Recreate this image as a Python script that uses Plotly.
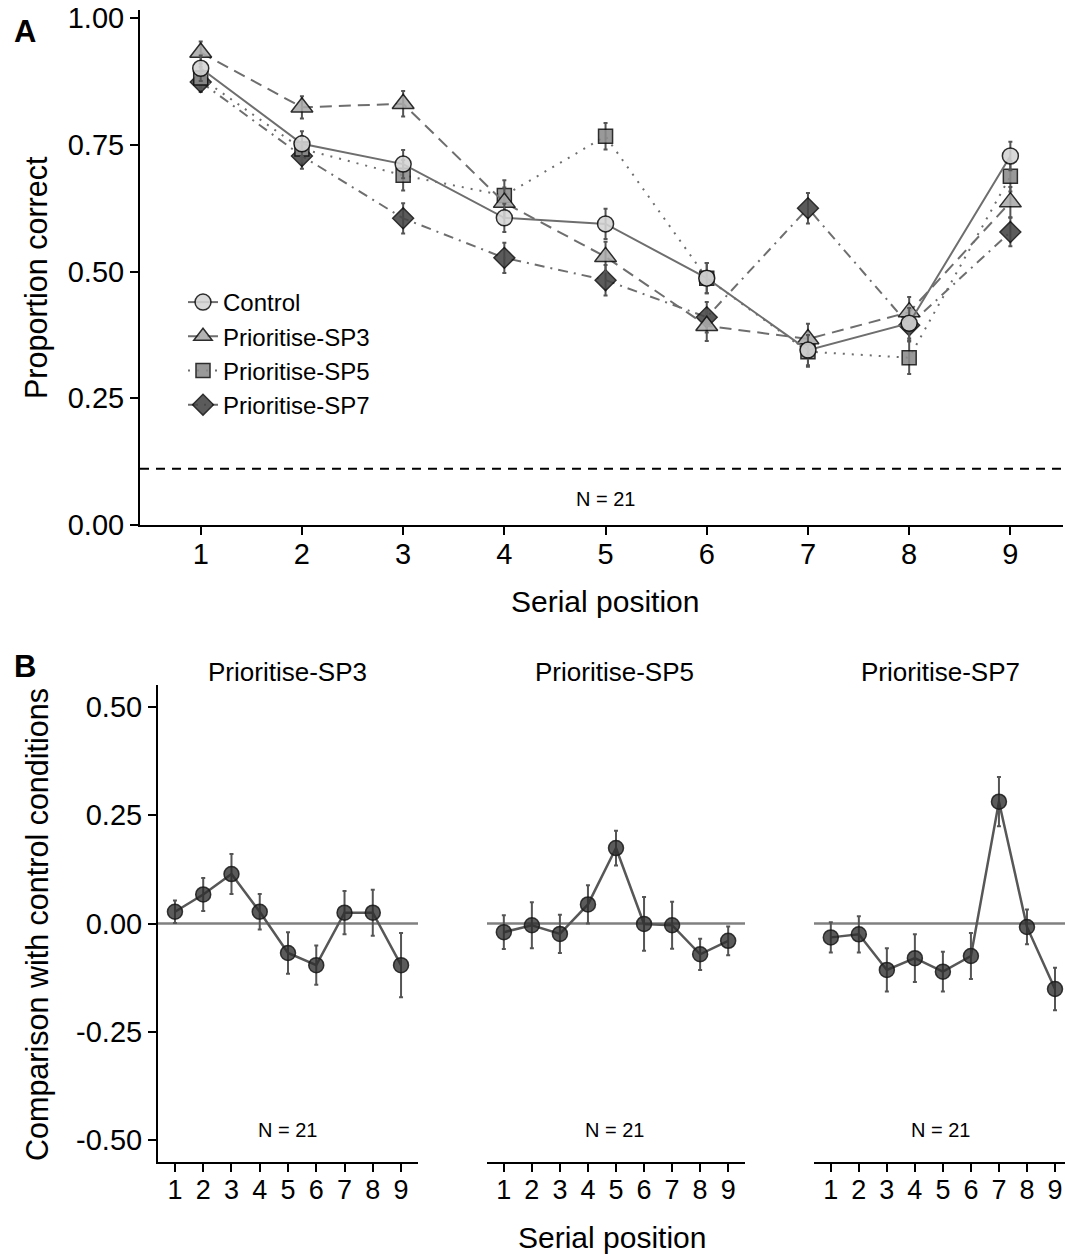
import plotly.graph_objects as go

W, H = 1065, 1254


def px(x):
    return x / W


def py(y):
    return 1 - y / H


# ---------------- data ----------------
positions = [1, 2, 3, 4, 5, 6, 7, 8, 9]
chance_level = 1 / 9
n_label = "N = 21"

control_mean = [0.901, 0.752, 0.712, 0.606, 0.594, 0.487, 0.345, 0.398, 0.728]
control_se = [0.025, 0.025, 0.028, 0.028, 0.030, 0.030, 0.030, 0.030, 0.028]

sp3_mean = [0.932, 0.824, 0.831, 0.636, 0.529, 0.393, 0.367, 0.420, 0.637]
sp3_se = [0.022, 0.022, 0.025, 0.030, 0.030, 0.030, 0.030, 0.030, 0.030]

sp5_mean = [0.882, 0.742, 0.690, 0.650, 0.767, 0.487, 0.342, 0.330, 0.688]
sp5_se = [0.022, 0.025, 0.030, 0.030, 0.026, 0.030, 0.030, 0.032, 0.030]

sp7_mean = [0.874, 0.728, 0.605, 0.527, 0.483, 0.410, 0.625, 0.394, 0.578]
sp7_se = [0.020, 0.025, 0.030, 0.030, 0.030, 0.030, 0.030, 0.030, 0.028]

diff_sp3 = [0.027, 0.067, 0.114, 0.027, -0.068, -0.096, 0.025, 0.025, -0.096]
diff_sp3_se = [0.026, 0.038, 0.046, 0.041, 0.048, 0.045, 0.050, 0.053, 0.074]

diff_sp5 = [-0.020, -0.004, -0.024, 0.044, 0.174, -0.001, -0.004, -0.071, -0.040]
diff_sp5_se = [0.039, 0.053, 0.044, 0.044, 0.040, 0.062, 0.054, 0.036, 0.033]

diff_sp7 = [-0.032, -0.025, -0.107, -0.080, -0.111, -0.075, 0.281, -0.008, -0.151]
diff_sp7_se = [0.035, 0.042, 0.050, 0.055, 0.046, 0.053, 0.057, 0.040, 0.049]

ya_ticks = [0.0, 0.25, 0.5, 0.75, 1.0]
ya_text = ["0.00", "0.25", "0.50", "0.75", "1.00"]
yb_ticks = [-0.5, -0.25, 0.0, 0.25, 0.5]
yb_text = ["-0.50", "-0.25", "0.00", "0.25", "0.50"]

FONT = "Liberation Sans, Arial, Helvetica, sans-serif"
LINE_C = "#6e6e6e"
ERR_C = "#555555"

fig = go.Figure()

# ---------------- panel A ----------------
series = [
    ("Prioritise-SP7", sp7_mean, sp7_se, "diamond", 16, "#454545", "10px,6px,2px,6px", 4),
    ("Prioritise-SP5", sp5_mean, sp5_se, "square", 14, "#8c8c8c", "2px,7px", 3),
    ("Prioritise-SP3", sp3_mean, sp3_se, "triangle-up", 19, "#aaaaaa", "12px,7px", 2),
    ("Control", control_mean, control_se, "circle", 16, "#d4d4d4", "solid", 1),
]
for name, m, se, sym, size, fill, dash, rank in series:
    fig.add_trace(go.Scatter(
        x=positions, y=m, name=name, mode="lines+markers",
        xaxis="x", yaxis="y", legendrank=rank,
        line=dict(color=LINE_C, width=2, dash=dash),
        marker=dict(symbol=sym, size=size, color=fill, opacity=0.88,
                    line=dict(color="#111111", width=1.5)),
        error_y=dict(type="data", array=se, visible=True, color=ERR_C,
                     thickness=2, width=2),
    ))

# ---------------- panel B ----------------
b_sets = [("x2", diff_sp3, diff_sp3_se), ("x3", diff_sp5, diff_sp5_se),
          ("x4", diff_sp7, diff_sp7_se)]
for xa, d, se in b_sets:
    fig.add_trace(go.Scatter(
        x=positions, y=d, mode="lines+markers", showlegend=False,
        xaxis=xa, yaxis="y2",
        line=dict(color="#575757", width=2.5),
        marker=dict(symbol="circle", size=15, color="rgba(45,45,45,0.78)",
                    line=dict(color="rgba(25,25,25,0.85)", width=1.5)),
        error_y=dict(type="data", array=se, visible=True, color=ERR_C,
                     thickness=2, width=2),
    ))

axis_common = dict(
    showline=True, linecolor="black", linewidth=2, showgrid=False,
    zeroline=False, ticks="outside", ticklen=8, tickwidth=2,
    tickcolor="black", automargin=False,
)
ytick_font = dict(size=29, color="black", family=FONT)
xa_font = dict(size=29, color="black", family=FONT)
xb_font = dict(size=27, color="black", family=FONT)

shapes = [
    dict(type="line", xref="x domain", x0=0, x1=1, yref="y",
         y0=chance_level, y1=chance_level, layer="below",
         line=dict(color="black", width=2, dash="9px,7px")),
]
for xa in ["x2", "x3", "x4"]:
    shapes.append(dict(type="line", xref=xa + " domain", x0=0, x1=1,
                       yref="y2", y0=0, y1=0, layer="below",
                       line=dict(color="#808080", width=2.5)))

annotations = [
    dict(text="<b>A</b>", x=px(25), y=py(31), font=dict(size=31)),
    dict(text="<b>B</b>", x=px(25), y=py(666), font=dict(size=31)),
    dict(text=n_label, x=px(605), y=py(499), font=dict(size=20)),
    dict(text="Serial position", x=px(605), y=py(601), font=dict(size=30)),
    dict(text="Proportion correct", x=px(37), y=py(278), textangle=-90,
         font=dict(size=30.5)),
    dict(text="Comparison with control conditions", x=px(37), y=py(925),
         textangle=-90, font=dict(size=30.5)),
    dict(text="Serial position", x=px(612), y=py(1237), font=dict(size=30)),
]
for cx, title in [(287, "Prioritise-SP3"), (614, "Prioritise-SP5"),
                  (940, "Prioritise-SP7")]:
    annotations.append(dict(text=title, x=px(cx), y=py(672),
                            font=dict(size=26)))
    annotations.append(dict(text=n_label, x=px(cx), y=py(1130),
                            font=dict(size=20)))
for a in annotations:
    a.update(xref="paper", yref="paper", xanchor="center", yanchor="middle",
             showarrow=False)
    a["font"].update(color="black", family=FONT)

fig.update_layout(
    width=W, height=H,
    margin=dict(l=0, r=0, t=0, b=0, autoexpand=False),
    paper_bgcolor="white", plot_bgcolor="white",
    font=dict(family=FONT, color="black"),
    xaxis=dict(domain=[px(140), px(1063)], range=[0.4, 9.52], anchor="y",
               tickvals=positions, tickfont=xa_font, ticklabelstandoff=-6,
               **axis_common),
    yaxis=dict(domain=[py(525), py(10)], range=[0, 1.016], anchor="x",
               tickvals=ya_ticks, ticktext=ya_text, tickfont=ytick_font,
               **axis_common),
    xaxis2=dict(domain=[px(158), px(418)], range=[0.4, 9.6], anchor="y2",
                tickvals=positions, tickfont=xb_font, ticklabelstandoff=-5,
                **axis_common),
    xaxis3=dict(domain=[px(487), px(745)], range=[0.4, 9.6], anchor="y2",
                tickvals=positions, tickfont=xb_font, ticklabelstandoff=-5,
                **axis_common),
    xaxis4=dict(domain=[px(814), 1.0], range=[0.4, 9.357], anchor="y2",
                tickvals=positions, tickfont=xb_font, ticklabelstandoff=-5,
                **axis_common),
    yaxis2=dict(domain=[py(1162), py(685)], range=[-0.55, 0.55], anchor="x2",
                tickvals=yb_ticks, ticktext=yb_text, tickfont=ytick_font,
                **axis_common),
    legend=dict(x=px(183), y=py(280), xanchor="left", yanchor="top",
                bgcolor="rgba(0,0,0,0)", font=dict(size=24, color="black"),
                itemwidth=30, tracegroupgap=0),
    shapes=shapes,
    annotations=annotations,
)

fig.write_html(
    "out.html",
    config={"displayModeBar": False},
    post_script="document.body.style.margin='0';document.body.style.overflow='hidden';",
)
